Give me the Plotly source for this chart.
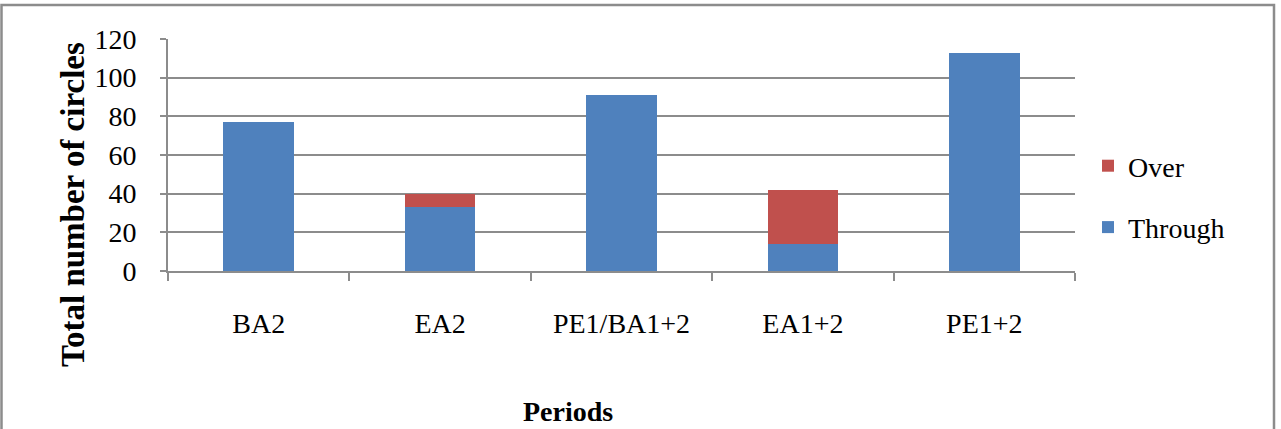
import plotly.graph_objects as go

categories = ["BA2", "EA2", "PE1/BA1+2", "EA1+2", "PE1+2"]
through = [77, 33, 91, 14, 113]
over = [0, 7, 0, 28, 0]
y_ticks = [0, 20, 40, 60, 80, 100, 120]

W, H = 1281, 429
L, R, T, B = 168, 206, 39, 158
pw, ph = W - L - R, H - T - B

def px(x):
    return (x - L) / pw

def py(y):
    return (H - B - y) / ph

FONT = "Liberation Serif"
GRID = "#8c8c8c"

fig = go.Figure()
fig.add_trace(go.Bar(x=categories, y=through, name="Through", marker_color="#4F81BD",
                     marker_line_width=0, legendgroup="g2", legendrank=2))
fig.add_trace(go.Bar(x=categories, y=over, name="Over", marker_color="#C0504D",
                     marker_line_width=0, legendgroup="g1", legendrank=1))

fig.update_layout(
    width=W, height=H,
    margin=dict(l=L, r=R, t=T, b=B),
    barmode="stack", bargap=0.61,
    plot_bgcolor="white", paper_bgcolor="white",
    font=dict(family=FONT, size=28, color="black"),
    showlegend=True,
    legend=dict(
        xref="container", yref="container",
        x=1088 / W, xanchor="left",
        y=1 - 141 / H, yanchor="top",
        traceorder="grouped", tracegroupgap=22,
        font=dict(family=FONT, size=28, color="black"),
        bgcolor="rgba(0,0,0,0)",
    ),
    xaxis=dict(
        showline=True, linecolor=GRID, linewidth=2,
        ticks="outside", tickson="boundaries", ticklen=8, tickcolor=GRID, tickwidth=2,
        ticklabelstandoff=26,
        tickfont=dict(family=FONT, size=28, color="black"),
        showgrid=False,
    ),
    yaxis=dict(
        range=[0, 120], tickvals=y_ticks,
        showline=True, linecolor=GRID, linewidth=2,
        ticks="outside", ticklen=6, tickcolor=GRID, tickwidth=2,
        ticklabelstandoff=18,
        showgrid=True, gridcolor=GRID, gridwidth=2,
        zeroline=False,
        tickfont=dict(family=FONT, size=28, color="black"),
    ),
    annotations=[
        dict(text="<b>Total number of circles</b>", xref="paper", yref="paper",
             x=px(73), y=py(205), xanchor="center", yanchor="middle",
             textangle=-90, showarrow=False,
             font=dict(family=FONT, size=33, color="black")),
        dict(text="<b>Periods</b>", xref="paper", yref="paper",
             x=px(568), y=py(411), xanchor="center", yanchor="middle",
             showarrow=False,
             font=dict(family=FONT, size=28, color="black")),
    ],
    shapes=[
        dict(type="rect", xref="paper", yref="paper",
             x0=px(1.5), x1=px(1274), y0=py(432), y1=py(5),
             line=dict(color="#8c8c8c", width=2.5), fillcolor="rgba(0,0,0,0)",
             layer="below"),
    ],
)

fig.write_html("out.html")
